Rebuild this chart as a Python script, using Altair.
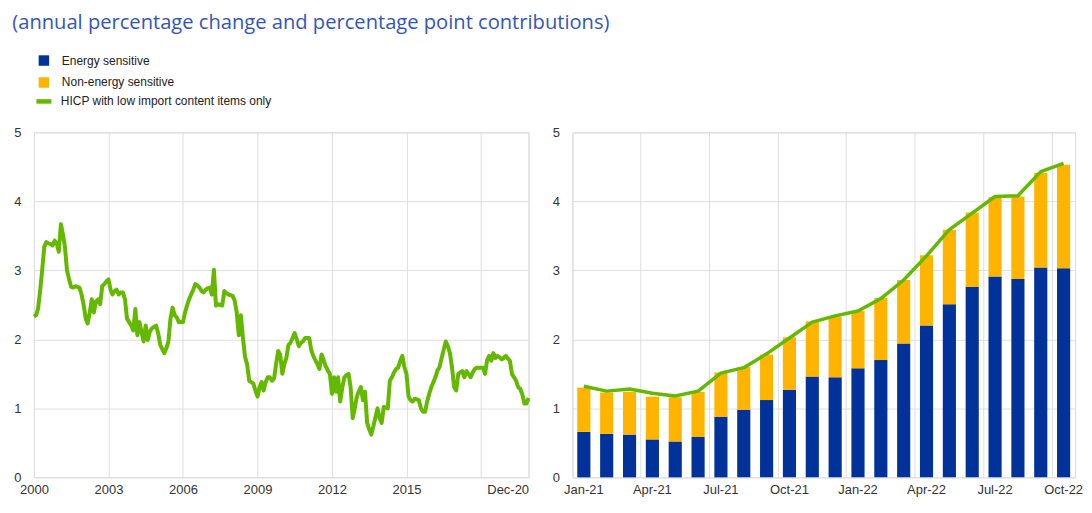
import altair as alt
import pandas as pd

TITLE = "(annual percentage change and percentage point contributions)"
SERIES = ["Energy sensitive", "Non-energy sensitive", "HICP with low import content items only"]
COLORS = ["#003299", "#ffb400", "#65b800"]

# Left panel: monthly, Jan 2000 onwards
LEFT_START = "2000-01-01"
LEFT_HICP = [
    2.33, 2.35, 2.44, 2.70, 3.00, 3.34, 3.41, 3.39, 3.38, 3.36, 3.43, 3.39,
    3.27, 3.67, 3.53, 3.34, 3.00, 2.87, 2.76, 2.75, 2.77, 2.76, 2.75, 2.65,
    2.50, 2.30, 2.23, 2.39, 2.58, 2.39, 2.55, 2.58, 2.51, 2.77, 2.80, 2.84,
    2.87, 2.72, 2.65, 2.70, 2.72, 2.65, 2.68, 2.68, 2.58, 2.30, 2.25, 2.20,
    2.13, 2.44, 2.06, 2.25, 2.11, 1.97, 2.20, 1.99, 2.11, 2.16, 2.18, 2.20,
    2.09, 1.92, 1.86, 1.80, 1.87, 1.97, 2.30, 2.46, 2.35, 2.32, 2.25, 2.25,
    2.25, 2.39, 2.49, 2.58, 2.65, 2.72, 2.80, 2.78, 2.75, 2.70, 2.68, 2.72,
    2.74, 2.75, 2.65, 3.01, 2.49, 2.51, 2.50, 2.49, 2.70, 2.67, 2.65, 2.64,
    2.63, 2.56, 2.39, 2.06, 2.35, 2.02, 1.75, 1.64, 1.40, 1.38, 1.36, 1.26,
    1.17, 1.31, 1.38, 1.26, 1.38, 1.45, 1.45, 1.40, 1.43, 1.64, 1.83, 1.78,
    1.50, 1.65, 1.73, 1.92, 1.95, 2.02, 2.09, 2.00, 1.90, 1.95, 1.97, 2.02,
    2.02, 2.02, 1.85, 1.76, 1.70, 1.64, 1.57, 1.78, 1.70, 1.61, 1.55, 1.50,
    1.21, 1.45, 1.24, 1.45, 1.10, 1.30, 1.45, 1.48, 1.50, 1.31, 0.86, 1.00,
    1.17, 1.25, 1.31, 1.12, 1.24, 0.79, 0.70, 0.62, 0.74, 0.87, 1.00, 0.86,
    0.79, 1.02, 1.01, 1.00, 1.40, 1.45, 1.52, 1.57, 1.59, 1.69, 1.76, 1.60,
    1.50, 1.17, 1.12, 1.10, 1.14, 1.13, 1.12, 1.00, 0.95, 0.95, 1.10, 1.21,
    1.31, 1.38, 1.45, 1.55, 1.60, 1.73, 1.85, 1.97, 1.90, 1.80, 1.59, 1.31,
    1.26, 1.50, 1.52, 1.54, 1.45, 1.54, 1.50, 1.45, 1.52, 1.57, 1.59, 1.59,
    1.59, 1.59, 1.50, 1.70, 1.76, 1.69, 1.80, 1.73, 1.76, 1.74, 1.71, 1.73,
    1.76, 1.72, 1.69, 1.50, 1.45, 1.40, 1.31, 1.28, 1.20, 1.07, 1.07, 1.15,
]
LEFT_TICK_YEARS = [2000, 2003, 2006, 2009, 2012, 2015, 2018]
LEFT_HIDDEN_YEAR = 2018
LEFT_END_LABEL = "Dec-20"

# Right panel: Jan-21 .. Oct-22
MONTHS = ["Jan-21", "Feb-21", "Mar-21", "Apr-21", "May-21", "Jun-21", "Jul-21", "Aug-21",
          "Sep-21", "Oct-21", "Nov-21", "Dec-21", "Jan-22", "Feb-22", "Mar-22", "Apr-22",
          "May-22", "Jun-22", "Jul-22", "Aug-22", "Sep-22", "Oct-22"]
ENERGY = [0.66, 0.63, 0.62, 0.55, 0.52, 0.585, 0.88, 0.98, 1.12, 1.27, 1.46,
          1.45, 1.58, 1.70, 1.94, 2.20, 2.51, 2.76, 2.91, 2.875, 3.04, 3.03]
NON_ENERGY = [0.64, 0.60, 0.62, 0.62, 0.64, 0.655, 0.64, 0.62, 0.66, 0.76, 0.80,
              0.88, 0.83, 0.90, 0.92, 1.02, 1.08, 1.08, 1.15, 1.195, 1.37, 1.50]
HICP = [1.32, 1.25, 1.28, 1.22, 1.18, 1.25, 1.51, 1.59, 1.79, 2.02, 2.25,
        2.34, 2.41, 2.59, 2.86, 3.21, 3.59, 3.83, 4.07, 4.08, 4.43, 4.55]
RIGHT_TICKS = ["Jan-21", "Apr-21", "Jul-21", "Oct-21", "Jan-22", "Apr-22", "Jul-22", "Oct-22"]
Y_TICKS = [0, 1, 2, 3, 4, 5]

GRID = "#dedede"
LABEL_COLOR = "#333333"
FONT = "Liberation Sans"
RIGHT_W = 504
PLOT_H = 346

# ---------- data frames ----------
left_dates = pd.date_range(LEFT_START, periods=len(LEFT_HICP), freq="MS")
left_df = pd.DataFrame({"date": left_dates, "value": LEFT_HICP, "series": SERIES[2]})

bars_df = pd.concat([
    pd.DataFrame({"month": MONTHS, "value": ENERGY, "component": SERIES[0], "order": 0}),
    pd.DataFrame({"month": MONTHS, "value": NON_ENERGY, "component": SERIES[1], "order": 1}),
])
line_df = pd.DataFrame({"month": MONTHS, "value": HICP, "series": SERIES[2]})

y_axis = alt.Axis(values=Y_TICKS, grid=True, gridColor=GRID, domain=False, ticks=False,
                  labelPadding=13, labelFontSize=13, labelColor=LABEL_COLOR, labelFont=FONT,
                  format="d", title=None)
y_scale = alt.Scale(domain=[0, 5], nice=False)

stroke_scale = alt.Scale(domain=[SERIES[2]], range=[COLORS[2]])
fill_scale = alt.Scale(domain=SERIES[:2], range=COLORS[:2])

fill_legend = alt.Legend(title=None, orient="none", legendX=4, legendY=-78,
                         symbolType="square", symbolSize=110, symbolStrokeWidth=0,
                         labelFont=FONT, labelFontSize=12, labelColor="#222222",
                         labelOffset=12, rowPadding=10, padding=0, labelLimit=400)
stroke_legend = alt.Legend(title=None, orient="none", legendX=0, legendY=-41,
                           symbolType="stroke", symbolSize=225, symbolStrokeWidth=4.5,
                           labelFont=FONT, labelFontSize=12, labelColor="#222222",
                           labelOffset=7, padding=0, labelLimit=400)

# ---------- left panel ----------
tick_vals = [alt.DateTime(year=y, month=1, date=1) for y in LEFT_TICK_YEARS]
end_val = alt.DateTime(year=left_dates[-1].year, month=left_dates[-1].month, date=1)
end_month_js = left_dates[-1].month - 1
label_expr = (f"year(datum.value) == {LEFT_HIDDEN_YEAR} ? '' : "
              f"(month(datum.value) == {end_month_js} ? '{LEFT_END_LABEL}' : "
              f"timeFormat(datum.value, '%Y'))")

left = alt.Chart(left_df).mark_line(strokeWidth=4, strokeJoin="round").encode(
    x=alt.X("date:T",
            scale=alt.Scale(domain=[alt.DateTime(year=2000, month=1, date=1), end_val]),
            axis=alt.Axis(values=tick_vals + [end_val], labelExpr=label_expr, grid=True,
                          gridColor=GRID, domain=False, ticks=False, labelPadding=6,
                          labelFontSize=13, labelColor=LABEL_COLOR, labelFont=FONT,
                          labelOverlap=False, labelFlush=False, labelBound=False,
                          labelAlign={"condition": {"test": f"month(datum.value) == {end_month_js}",
                                                    "value": "right"}, "value": "center"},
                          title=None)),
    y=alt.Y("value:Q", scale=y_scale, axis=y_axis),
    stroke=alt.Stroke("series:N", scale=stroke_scale, legend=stroke_legend),
).properties(width=496, height=PLOT_H)

# ---------- right panel ----------
x_enc_kwargs = dict(
    sort=MONTHS,
    scale=alt.Scale(domain=MONTHS, paddingInner=0, paddingOuter=0),
)
bars = alt.Chart(bars_df).mark_bar(width=alt.RelativeBandSize(0.575)).encode(
    x=alt.X("month:O", **x_enc_kwargs,
            axis=alt.Axis(values=RIGHT_TICKS, bandPosition=0, grid=True,
                          gridColor=GRID, domain=False, ticks=False, labelPadding=6,
                          labelAngle=0, labelFontSize=13, labelColor=LABEL_COLOR,
                          labelFont=FONT, labelOverlap=False, labelBound=False,
                          labelFlush=False, title=None)),
    y=alt.Y("value:Q", stack="zero", scale=y_scale, axis=y_axis),
    fill=alt.Fill("component:N", scale=fill_scale, legend=fill_legend),
    order=alt.Order("order:Q"),
)
rline = alt.Chart(line_df).mark_line(strokeWidth=3.5, strokeJoin="round").encode(
    x=alt.X("month:O", **x_enc_kwargs),
    y=alt.Y("value:Q", scale=y_scale),
    stroke=alt.Stroke("series:N", scale=stroke_scale, legend=stroke_legend),
)
right = alt.layer(bars, rline).properties(width=RIGHT_W, height=PLOT_H)

chart = alt.hconcat(left, right, spacing=20).resolve_scale(
    fill="shared", stroke="shared"
).resolve_legend(fill="shared", stroke="shared").properties(
    title=alt.TitleParams(TITLE, anchor="start", fontSize=20.2, font="Open Sans",
                          fontWeight="normal", color="#3355bb", offset=21.7, dx=-1),
    padding={"left": 4, "top": 4, "right": 0, "bottom": 0},
).configure_view(stroke=GRID).configure(background="white")

chart.save("out.html", embed_options={"renderer": "svg", "actions": False})
